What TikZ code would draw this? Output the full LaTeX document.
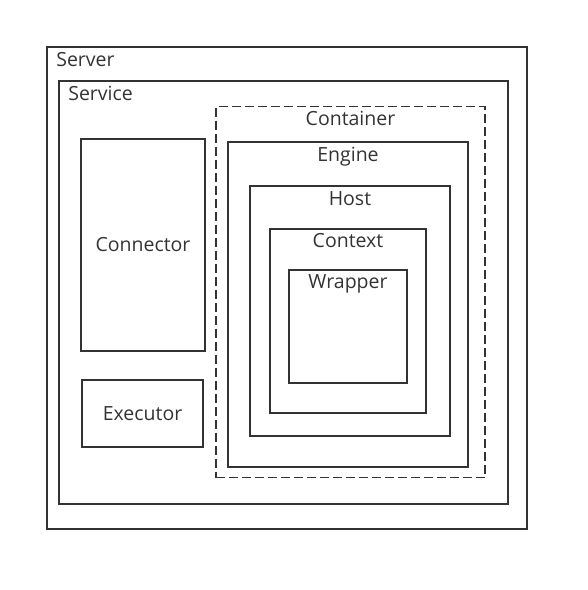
\documentclass[tikz,border=0pt]{standalone}
\usepackage{fontspec}
\setmainfont{Open Sans}
\usepackage{tikz}
\usepackage{xcolor}
\definecolor{linegray}{HTML}{333333}
\usetikzlibrary{positioning}

\begin{document}
\begin{tikzpicture}[x=1pt,y=-1pt,
        box/.style={draw=linegray,line width=1.8pt,inner sep=0pt},
        dashbox/.style={box,dash pattern=on 9pt off 4pt},
        lbl/.style={text=linegray,inner sep=0pt,font=\fontsize{19.5}{22}\selectfont}]
        \useasboundingbox (0,0) rectangle (588,590);

        % outer frames
        \node[box,minimum width=480pt,minimum height=482pt] (server) at (287,288) {};
        \node[box,minimum width=449pt,minimum height=423pt] (service) at (283.5,292.5) {};
        \node[lbl,anchor=base west] (serverlabel) at ([xshift=10pt,yshift=-20pt]server.north west) {Server};
        \node[lbl,anchor=base west] (servicelabel) at ([xshift=10pt,yshift=-20pt]service.north west) {Service};

        % left column
        \node[box,minimum width=124pt,minimum height=212pt] (connector) at (143,245) {};
        \node[lbl] (connectorlabel) at (connector.center) {Connector};
        \node[box,minimum width=121pt,minimum height=67pt] (executor) at (142.5,413.5) {};
        \node[lbl] (executorlabel) at (executor.center) {Executor};

        % nested containers
        \node[dashbox,minimum width=269pt,minimum height=371pt] (container) at (350.5,292) {};
        \node[box,minimum width=240pt,minimum height=325pt] (engine) at (348,304.5) {};
        \node[box,minimum width=200pt,minimum height=250pt] (host) at (350,311) {};
        \node[box,minimum width=156pt,minimum height=184pt] (context) at (348,321) {};
        \node[box,minimum width=118pt,minimum height=113pt] (wrapper) at (348,326.5) {};

        \node[lbl,anchor=base] (containerlabel) at ([yshift=-20pt]container.north) {Container};
        \node[lbl,anchor=base] (enginelabel) at ([yshift=-20pt]engine.north) {Engine};
        \node[lbl,anchor=base] (hostlabel) at ([yshift=-20pt]host.north) {Host};
        \node[lbl,anchor=base] (contextlabel) at ([yshift=-19pt]context.north) {Context};
        \node[lbl,anchor=base] (wrapperlabel) at ([yshift=-19pt]wrapper.north) {Wrapper};
    \end{tikzpicture}
\end{document}
